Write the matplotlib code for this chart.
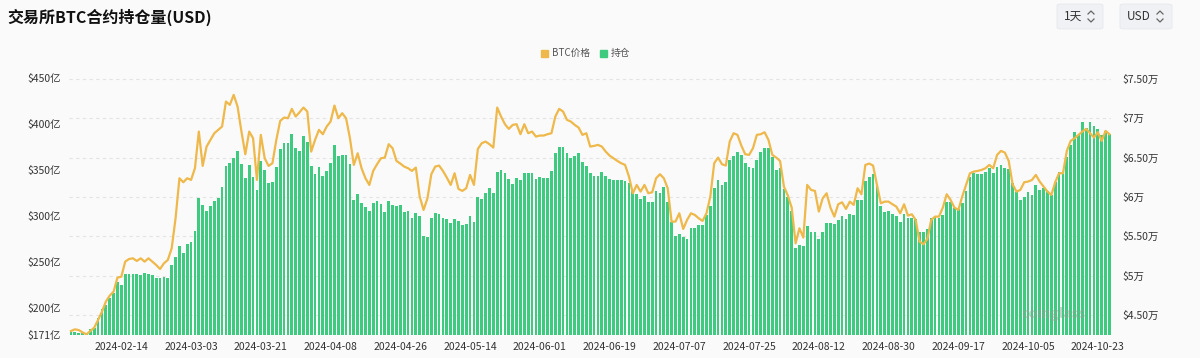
import matplotlib
matplotlib.use('Agg')
import matplotlib.pyplot as plt
import pandas as pd
from matplotlib.patches import FancyBboxPatch, Rectangle
from matplotlib.lines import Line2D

plt.rcParams['font.family'] = ['Noto Sans CJK SC', 'DejaVu Sans']

# ---------------- data ----------------
start_date = '2024-02-01'

# open interest, 亿 USD
oi_yi = [
    173.9, 173.9, 173.2, 172.8, 171.7, 177.2, 178.3, 189.1, 199.2, 203.6,
    211.5, 216.2, 228.9, 225.3, 236.9, 236.9, 236.9, 236.9, 236.1, 238.0,
    236.9, 236.1, 233.2, 232.5, 234.0, 233.2, 247.0, 256.0, 267.6, 259.7,
    269.4, 272.3, 284.2, 319.4, 312.1, 305.6, 311.4, 316.5, 320.1, 332.0,
    354.5, 357.4, 363.5, 371.1, 356.3, 341.8, 355.6, 342.9, 328.4, 359.9,
    350.1, 336.3, 337.0, 353.0, 372.9, 379.1, 379.1, 388.8, 374.4, 370.8,
    387.0, 380.9, 354.8, 345.8, 353.4, 343.6, 349.0, 357.4, 377.3, 365.7,
    366.4, 366.4, 356.3, 317.2, 324.4, 314.0, 310.3, 305.6, 314.0, 316.5,
    313.2, 304.9, 316.5, 312.1, 311.4, 312.1, 304.9, 305.6, 297.7, 303.8,
    300.2, 278.8, 277.4, 297.7, 303.8, 302.0, 297.7, 296.9, 292.2, 296.6,
    294.8, 290.4, 291.2, 300.2, 294.0, 321.1, 318.3, 324.8, 330.2, 324.8,
    347.6, 350.1, 346.5, 340.0, 334.6, 341.8, 339.3, 347.2, 347.2, 346.5,
    340.0, 342.9, 341.1, 341.1, 349.0, 368.2, 375.4, 375.4, 368.2, 363.5,
    365.7, 368.9, 358.5, 354.5, 346.5, 343.9, 343.9, 348.3, 343.9, 340.4,
    339.3, 339.3, 339.3, 338.2, 335.7, 327.3, 323.7, 318.6, 322.2, 315.1,
    315.7, 327.3, 324.8, 332.0, 315.7, 294.0, 278.8, 280.3, 277.0, 275.2,
    286.8, 287.5, 290.4, 290.4, 301.3, 311.4, 330.9, 339.3, 333.8, 337.5,
    361.0, 365.7, 370.0, 366.4, 357.4, 353.0, 352.6, 361.0, 370.0, 373.6,
    373.6, 364.6, 350.1, 352.0, 329.5, 321.1, 305.6, 265.8, 268.7, 267.6,
    289.3, 282.5, 282.5, 275.2, 283.2, 292.9, 292.9, 291.2, 295.8, 300.2,
    296.6, 302.0, 301.3, 317.6, 317.6, 338.2, 342.9, 345.4, 333.8, 311.0,
    304.9, 305.6, 302.0, 300.2, 294.0, 302.0, 298.4, 297.7, 296.6, 283.2,
    282.5, 286.1, 297.7, 299.5, 298.4, 301.3, 315.7, 315.7, 308.5, 307.5,
    314.0, 327.3, 342.9, 346.5, 345.4, 345.4, 347.6, 352.6, 346.5, 353.7,
    355.6, 352.0, 351.2, 335.7, 326.6, 317.6, 321.1, 326.6, 323.0, 333.8,
    328.4, 330.2, 327.3, 323.0, 337.5, 347.6, 345.4, 364.6, 377.3, 391.8,
    388.1, 402.6, 395.4, 401.9, 397.9, 394.3, 388.1, 392.8, 388.8,
]

# BTC price, USD
btc_price = [
    42964, 43176, 43091, 42794, 42540, 42964, 43388, 44363, 45421, 46693,
    47456, 47965, 49746, 49873, 51781, 52122, 52207, 51868, 52207, 51781,
    52207, 51781, 51359, 50850, 51571, 51995, 53479, 57295, 62383, 61874,
    62383, 62171, 63655, 68319, 63952, 66408, 67259, 68107, 68531, 68955,
    72135, 71711, 72983, 71498, 68319, 65440, 68319, 67474, 62171, 67895,
    64931, 63952, 64291, 67259, 69676, 70100, 70015, 71202, 70227, 70778,
    71372, 70863, 65775, 67259, 68531, 67980, 68955, 69591, 71626, 70015,
    70651, 70015, 67471, 64079, 65563, 63655, 62383, 61535, 63316, 64164,
    64927, 65012, 66708, 66199, 64588, 64249, 63867, 63655, 63316, 63740,
    60051, 58355, 59839, 62892, 63867, 63994, 63316, 62468, 61535, 63019,
    61026, 60772, 61111, 62807, 61535, 66100, 66835, 67047, 66708, 66284,
    71372, 70227, 69252, 68658, 69167, 69252, 67983, 69252, 68107, 68319,
    67683, 67810, 67810, 67983, 68107, 70227, 71202, 70863, 69803, 69591,
    69167, 68828, 67895, 68107, 66411, 66496, 66623, 66411, 65775, 65266,
    64927, 64588, 64291, 64079, 62595, 60475, 61535, 60687, 61535, 60475,
    60602, 62383, 62892, 62383, 61111, 56871, 56871, 57931, 55939, 57083,
    57931, 57719, 57295, 56956, 57931, 60051, 64291, 65012, 64164, 63994,
    67047, 68107, 67895, 66538, 65436, 65351, 66199, 67895, 67980, 68234,
    67259, 65351, 65012, 64588, 61323, 60178, 58652, 54115, 56023, 54836,
    61535, 60899, 60772, 58143, 59839, 60475, 58652, 57507, 59076, 59330,
    58482, 59415, 58991, 61111, 60348, 64079, 64249, 63994, 61535, 59203,
    59415, 59415, 59076, 58779, 57931, 59076, 57634, 57804, 57083, 54327,
    53988, 54666, 57083, 57507, 57507, 58652, 60348, 59627, 58652, 58355,
    60051, 61535, 63019, 63231, 63316, 63443, 63655, 64079, 63655, 65351,
    65860, 65648, 64588, 61620, 60687, 60899, 61874, 61959, 62171, 62807,
    61959, 61323, 60687, 60263, 61874, 63019, 63019, 65860, 67132, 67471,
    67895, 68319, 68658, 68107, 67556, 68234, 67132, 68404, 67980,
]

left_ticks = [171, 200, 250, 300, 350, 400, 450]
left_labels = ['$171亿', '$200亿', '$250亿', '$300亿', '$350亿', '$400亿', '$450亿']
right_ticks = [45000, 50000, 55000, 60000, 65000, 70000, 75000]
right_labels = ['$4.50万', '$5万', '$5.50万', '$6万', '$6.50万', '$7万', '$7.50万']
x_label_first = 13
x_label_step = 18

title_text = '交易所BTC合约持仓量(USD)'
legend_price = 'BTC价格'
legend_oi = '持仓'
period_text = '1天'
currency_text = 'USD'

# ---------------- figure ----------------
W, H = 1200, 358
BG = '#fafafa'
GREEN = '#3ecb80'
GOLD = '#efb84a'
TXT = '#333333'

fig = plt.figure(figsize=(W / 100, H / 100), dpi=100, facecolor=BG)


def fx(px):
    return px / W


def fy(py):
    return 1 - py / H


n = len(oi_yi)
dates = pd.date_range(start_date, periods=n, freq='D')
x = list(range(n))

ax_left_px, ax_right_px = 69.0, 1111.4
ax_top_px, ax_bot_px = 78.0, 335.0
ax = fig.add_axes([fx(ax_left_px), fy(ax_bot_px),
                   (ax_right_px - ax_left_px) / W, (ax_bot_px - ax_top_px) / H])
ax.set_facecolor(BG)

L_MIN, L_MAX = 171, 450
R_MIN, R_MAX = 42458, 75127

# gridlines at right-axis ticks (drawn on left axes, behind bars)
for t in right_ticks:
    yv = L_MIN + (t - R_MIN) / (R_MAX - R_MIN) * (L_MAX - L_MIN)
    ax.axhline(yv, color='#e4e4e4', lw=0.8, ls=(0, (3, 3)), zorder=0)

ax.bar(x, oi_yi, width=0.72, color=GREEN, zorder=2, linewidth=0)
ax.set_xlim(-0.5, n - 0.5)
ax.set_ylim(L_MIN, L_MAX)
ax.set_yticks(left_ticks)
ax.set_yticklabels(left_labels)
xt = x[x_label_first::x_label_step]
ax.set_xticks(xt)
ax.set_xticklabels([dates[i].strftime('%Y-%m-%d') for i in xt])
ax.tick_params(axis='y', length=0, pad=6, labelsize=7.5, labelcolor=TXT)
ax.tick_params(axis='x', length=0, pad=5, labelsize=7.5, labelcolor=TXT)
for s in ax.spines.values():
    s.set_visible(False)

ax2 = ax.twinx()
ax2.plot(x, btc_price, color=GOLD, lw=1.6, solid_joinstyle='round', zorder=3)
ax2.set_ylim(R_MIN, R_MAX)
ax2.set_yticks(right_ticks)
ax2.set_yticklabels(right_labels)
ax2.tick_params(axis='y', length=0, pad=8, labelsize=7.5, labelcolor=TXT)
for s in ax2.spines.values():
    s.set_visible(False)

# watermark
ax.text(0.975, 0.08, 'coinglass', transform=ax.transAxes, ha='right', va='center',
        fontsize=10, color='#9a9a9a', alpha=0.45, zorder=5, fontweight='bold')

# title
fig.text(fx(7), fy(17), title_text, fontsize=11.5, fontweight='bold',
         color='#111111', ha='left', va='center')

# legend
sq = 7
fig.patches.append(Rectangle((fx(541), fy(53 + sq / 2)), sq / W, sq / H,
                             transform=fig.transFigure, color=GOLD))
fig.text(fx(552), fy(53), legend_price, fontsize=7, color='#555555', ha='left', va='center')
fig.patches.append(Rectangle((fx(600), fy(53 + sq / 2)), sq / W, sq / H,
                             transform=fig.transFigure, color=GREEN))
fig.text(fx(611), fy(53), legend_oi, fontsize=7, color='#555555', ha='left', va='center')


# dropdowns
def dropdown(x0, x1, label, tx, cx):
    box = FancyBboxPatch((fx(x0), fy(29)), (x1 - x0) / W, 25 / H,
                         boxstyle='round,pad=0,rounding_size=0.004',
                         transform=fig.transFigure, facecolor='#eff1f4',
                         edgecolor='#e6e8eb', linewidth=0.6)
    fig.patches.append(box)
    fig.text(fx(tx), fy(16.5), label, fontsize=8.5, color=TXT, ha='left', va='center')
    up = Line2D([fx(cx - 3), fx(cx), fx(cx + 3)], [fy(14), fy(11), fy(14)],
                transform=fig.transFigure, color='#666666', lw=0.9)
    dn = Line2D([fx(cx - 3), fx(cx), fx(cx + 3)], [fy(19), fy(22), fy(19)],
                transform=fig.transFigure, color='#666666', lw=0.9)
    fig.lines.extend([up, dn])


dropdown(1057, 1103, period_text, 1064, 1091)
dropdown(1120, 1172, currency_text, 1127, 1160)

fig.savefig('out.png', dpi=100, facecolor=BG)
